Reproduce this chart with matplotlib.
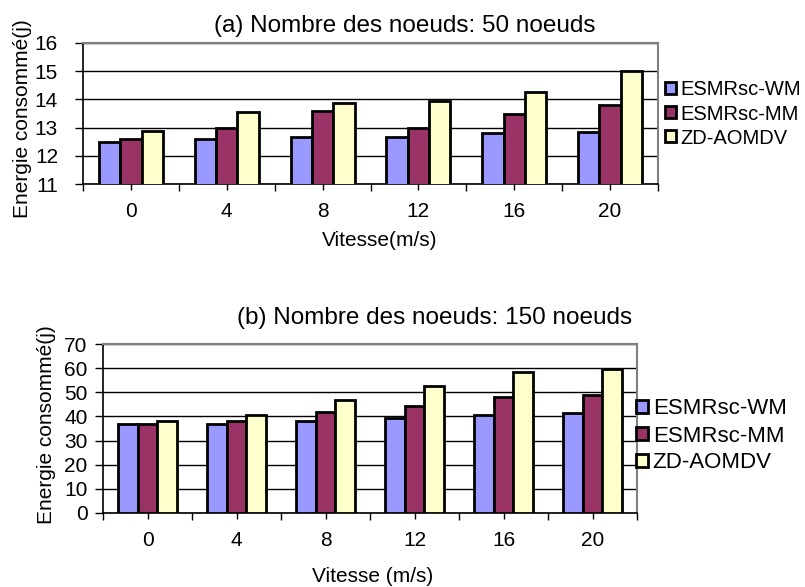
import numpy as np
import matplotlib
matplotlib.use('Agg')
import matplotlib.pyplot as plt
from matplotlib.patches import Patch

plt.rcParams['font.family'] = ['Liberation Sans', 'DejaVu Sans']

# vitesse (m/s) and energy consumed for each protocol
speeds = ['0', '4', '8', '12', '16', '20']
series = ['ESMRsc-WM', 'ESMRsc-MM', 'ZD-AOMDV']
colors = ['#9999FF', '#993366', '#FFFFCC']

wm_50 = [12.5, 12.6, 12.67, 12.66, 12.8, 12.85]
mm_50 = [12.6, 13.0, 13.6, 13.0, 13.5, 13.8]
zd_50 = [12.88, 13.56, 13.88, 13.94, 14.28, 15.0]

wm_150 = [36.7, 36.7, 37.9, 39.3, 40.6, 41.6]
mm_150 = [37.0, 37.9, 42.0, 44.2, 48.1, 49.0]
zd_150 = [38.1, 40.6, 46.7, 52.6, 58.3, 59.8]


def draw_panel(ax, data, ylim, ystep):
    x = np.arange(len(speeds))
    w = 1 / 4.5
    for i, vals in enumerate(data):
        ax.bar(x + (i - 1) * w, vals, w, color=colors[i], edgecolor='black',
               linewidth=2, zorder=3)
    ax.set_xlim(-0.5, len(speeds) - 0.5)
    ax.set_ylim(*ylim)
    ax.set_yticks(np.arange(ylim[0], ylim[1] + 0.1, ystep))
    ax.yaxis.grid(True, color='black', linewidth=1, zorder=0)
    ax.set_axisbelow(True)
    ax.set_xticks(x)
    ax.set_xticklabels(speeds)
    ax.set_xticks(np.arange(-0.5, len(speeds)), minor=True)
    ax.tick_params(axis='x', which='major', direction='inout', length=8,
                   width=1, pad=9, labelsize=15)
    ax.tick_params(axis='x', which='minor', direction='out', length=5, width=1)
    ax.tick_params(axis='y', direction='out', length=6, width=1, labelsize=15)
    for s in ['top', 'right']:
        ax.spines[s].set_color('#808080')
        ax.spines[s].set_linewidth(1.5)
    for s in ['left', 'bottom']:
        ax.spines[s].set_color('black')
        ax.spines[s].set_linewidth(1.2)
    ax.spines['top'].set_zorder(4)


fig = plt.figure(figsize=(8.05, 5.87), dpi=100)

ax1 = fig.add_axes([83 / 805, 1 - 184 / 587, 575 / 805, 141 / 587])
draw_panel(ax1, [wm_50, mm_50, zd_50], (11, 16), 1)
ax1.tick_params(axis='y', pad=12)

ax2 = fig.add_axes([103 / 805, 1 - 513 / 587, 534 / 805, 169 / 587])
draw_panel(ax2, [wm_150, mm_150, zd_150], (0, 70), 10)
ax2.tick_params(axis='y', pad=5)

handles = [Patch(facecolor=c, edgecolor='black', linewidth=2) for c in colors]
fig.legend(handles, series, loc='center left', bbox_to_anchor=(665 / 805, 1 - 114 / 587),
           frameon=False, fontsize=14.5, handlelength=0.55, handleheight=0.55,
           handletextpad=0.2, labelspacing=0.25, borderaxespad=0, borderpad=0)
fig.legend(handles, series, loc='center left', bbox_to_anchor=(636 / 805, 1 - 436 / 587),
           frameon=False, fontsize=16, handlelength=0.55, handleheight=0.55,
           handletextpad=0.2, labelspacing=0.27, borderaxespad=0, borderpad=0)

fig.text(405 / 805, 1 - 26 / 587, '(a) Nombre des noeuds: 50 noeuds',
         ha='center', va='center', fontsize=17.5)
fig.text(435 / 805, 1 - 318 / 587, '(b) Nombre des noeuds: 150 noeuds',
         ha='center', va='center', fontsize=17.5)
fig.text(380 / 805, 1 - 240 / 587, 'Vitesse(m/s)', ha='center', va='center', fontsize=15)
fig.text(373 / 805, 1 - 577 / 587, 'Vitesse (m/s)', ha='center', va='center', fontsize=15)
fig.text(23 / 805, 1 - 119 / 587, 'Energie consommé(j)', ha='center', va='center',
         rotation=90, fontsize=15)
fig.text(46 / 805, 1 - 425 / 587, 'Energie consommé(j)', ha='center', va='center',
         rotation=90, fontsize=15)

fig.savefig('out.png', dpi=100)
